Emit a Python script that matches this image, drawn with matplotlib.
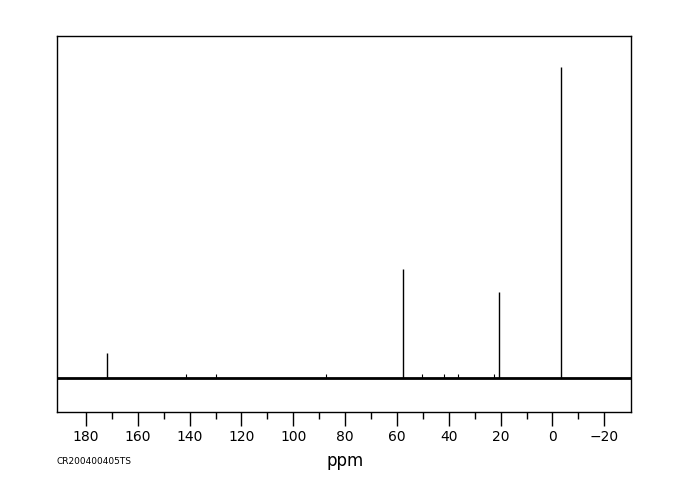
import matplotlib
matplotlib.use("Agg")
import matplotlib.pyplot as plt
from matplotlib.ticker import FixedLocator

# peak positions (ppm) and relative intensities
peak_ppm = [171.9, 57.6, 20.5, -3.4]
peak_height = [8.0, 35.0, 27.7, 100.0]

# tiny bumps on the baseline
small_ppm = [141.5, 130.0, 87.5, 50.5, 42.0, 36.5, 22.5]
small_height = [0.4, 0.4, 0.4, 0.4, 0.4, 0.4, 0.5]

major_ticks = [180, 160, 140, 120, 100, 80, 60, 40, 20, 0, -20]
minor_ticks = [170, 150, 130, 110, 90, 70, 50, 30, 10, -10]

x_range = (191.2, -30.3)
y_range = (-10.9, 110.0)
sample_id = "CR200400405TS"


def plot_spectrum():
    fig = plt.figure(figsize=(6.8, 5.0), dpi=100)
    ax = fig.add_axes([0.0838, 0.176, 0.8441, 0.752])

    ax.plot(x_range, [0, 0], color="black", linewidth=2.0, solid_capstyle="butt")
    ax.vlines(peak_ppm, 0, peak_height, color="black", linewidth=1.0)
    ax.vlines(small_ppm, 0, [h + 0.8 for h in small_height], color="black", linewidth=0.8)

    ax.set_xlim(*x_range)
    ax.set_ylim(*y_range)

    ax.xaxis.set_major_locator(FixedLocator(major_ticks))
    ax.xaxis.set_minor_locator(FixedLocator(minor_ticks))
    ax.set_xticklabels([f"\u2212{-t}" if t < 0 else str(t) for t in major_ticks])
    ax.tick_params(axis="x", which="major", length=10, width=1.0, direction="out",
                   labelsize=10, pad=3, top=False)
    ax.tick_params(axis="x", which="minor", length=5, width=1.0, direction="out", top=False)
    ax.yaxis.set_visible(False)

    for spine in ax.spines.values():
        spine.set_linewidth(1.0)

    fig.text(345 / 680, 1 - 461 / 500, "ppm", ha="center", va="center", fontsize=12)
    fig.text(57 / 680, 1 - 462 / 500, sample_id, ha="left", va="center", fontsize=6.5)

    fig.savefig("out.png", dpi=100)


if __name__ == "__main__":
    plot_spectrum()
